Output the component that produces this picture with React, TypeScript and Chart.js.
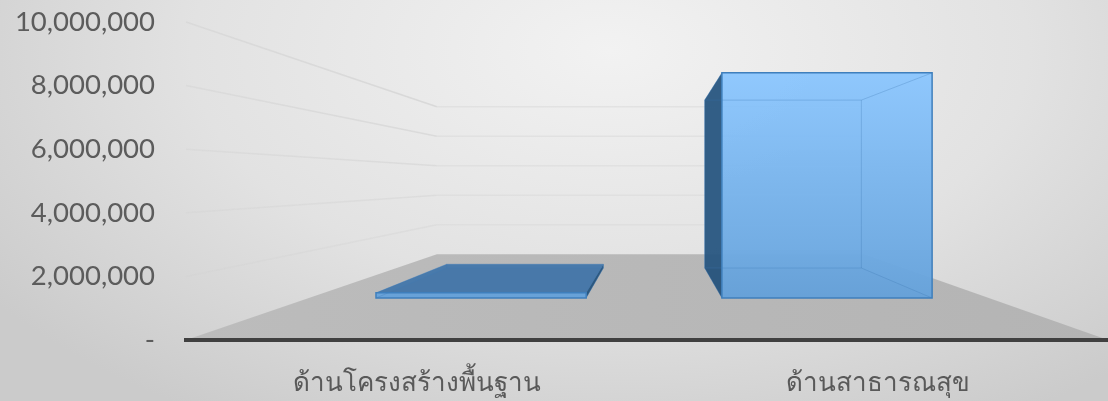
import React, { useEffect, useRef } from "react";
import { Chart, registerables } from "chart.js";

Chart.register(...registerables);

const categories = ["ด้านโครงสร้างพื้นฐาน", "ด้านสาธารณสุข"];
const budget = [220000, 9600000];
const yMax = 10000000;
const yStep = 2000000;

// Perspective of the 3D box the chart sits in
const VP_X = 654;
const VP_Y = 180;
const S_WALL = 0.464;
const S_BAR_FRONT = 0.7375;
const S_BAR_BACK = 0.55;
const X_STRETCH = 1.0174;
const X_FIXED = 241;

const proj = (x: number, y: number, s: number): [number, number] => [
  VP_X + (x - VP_X) * s,
  VP_Y + (y - VP_Y) * s,
];

const poly = (ctx: CanvasRenderingContext2D, pts: [number, number][]) => {
  ctx.beginPath();
  pts.forEach((p, i) => (i ? ctx.lineTo(p[0], p[1]) : ctx.moveTo(p[0], p[1])));
  ctx.closePath();
};

const box3d = {
  id: "box3d",
  beforeDraw(chart: any) {
    const { ctx, chartArea: a, scales } = chart;
    const y = scales.y;
    ctx.save();
    // floor
    const bl = proj(a.left, a.bottom, S_WALL);
    const br = proj(a.right, a.bottom, S_WALL);
    const g = ctx.createLinearGradient(a.left, 0, a.right, 0);
    g.addColorStop(0, "#bcbcbc");
    g.addColorStop(1, "#b4b4b4");
    ctx.fillStyle = g;
    poly(ctx, [[a.left, a.bottom], bl, br, [a.right, a.bottom]]);
    ctx.fill();
    // wall grid lines
    ctx.lineWidth = 1.5;
    y.ticks.forEach((t: any) => {
      if (t.value === 0) return;
      const yy = y.getPixelForValue(t.value);
      const b1 = proj(a.left, yy, S_WALL);
      const b2 = proj(a.right, yy, S_WALL);
      const strength = t.value / yMax;
      const lg = ctx.createLinearGradient(a.left, 0, b1[0], 0);
      lg.addColorStop(0, `rgba(205,205,205,${0.1 + 0.3 * strength})`);
      lg.addColorStop(1, `rgba(212,212,212,${0.35 + 0.45 * strength})`);
      ctx.strokeStyle = lg;
      ctx.beginPath();
      ctx.moveTo(a.left, yy);
      ctx.lineTo(b1[0], b1[1]);
      ctx.stroke();
      ctx.strokeStyle = "rgba(218,218,218,0.6)";
      ctx.beginPath();
      ctx.moveTo(b1[0], b1[1]);
      ctx.lineTo(b2[0], b2[1]);
      ctx.stroke();
    });
    ctx.restore();
  },
  beforeDatasetDraw(chart: any, args: any) {
    const { ctx, scales } = chart;
    const y = scales.y;
    const meta = args.meta;
    const maxTop = proj(0, y.getPixelForValue(Math.max(...budget)), S_BAR_FRONT)[1];
    const minBot = proj(0, y.getPixelForValue(0), S_BAR_FRONT)[1];
    ctx.save();
    meta.data.forEach((el: any) => {
      const cx = X_FIXED + (el.x - X_FIXED) * X_STRETCH;
      const w = el.width * X_STRETCH;
      const l = cx - w / 2;
      const r = cx + w / 2;
      const t = el.y;
      const b = el.base;
      const ftl = proj(l, t, S_BAR_FRONT);
      const ftr = proj(r, t, S_BAR_FRONT);
      const fbl = proj(l, b, S_BAR_FRONT);
      const fbr = proj(r, b, S_BAR_FRONT);
      const btl = proj(l, t, S_BAR_BACK);
      const btr = proj(r, t, S_BAR_BACK);
      const bbl = proj(l, b, S_BAR_BACK);
      const bbr = proj(r, b, S_BAR_BACK);
      const dark = "rgba(32,76,116,0.85)";
      const darkTop = "rgba(66,116,166,0.9)";
      const inner = "rgba(95,165,235,0.55)";

      const face = (pts: [number, number][], fill: string) => {
        ctx.fillStyle = fill;
        poly(ctx, pts);
        ctx.fill();
      };
      const leftOuter = l > VP_X;
      const rightOuter = r < VP_X;
      const topOuter = t > VP_Y;
      const leftFace: [number, number][] = [ftl, btl, bbl, fbl];
      const rightFace: [number, number][] = [ftr, btr, bbr, fbr];
      const topFace: [number, number][] = [ftl, ftr, btr, btl];

      // faces seen from inside first, faces seen from outside over them
      face([btl, btr, bbr, bbl], inner);
      face([fbl, fbr, bbr, bbl], "rgba(70,130,195,0.55)");
      if (!leftOuter) face(leftFace, inner);
      if (!rightOuter) face(rightFace, inner);
      if (!topOuter) face(topFace, inner);
      if (topOuter) face(topFace, darkTop);
      if (leftOuter) face(leftFace, dark);
      if (rightOuter) face(rightFace, dark);

      const g = ctx.createLinearGradient(0, maxTop, 0, minBot);
      g.addColorStop(0, "rgba(142,200,255,0.9)");
      g.addColorStop(1, "rgba(102,162,218,0.92)");
      face([ftl, ftr, fbr, fbl], g as any);

      // back edges, visible through the glass
      ctx.strokeStyle = "rgba(60,120,178,0.3)";
      ctx.lineWidth = 1;
      poly(ctx, [btl, btr, bbr, bbl]);
      ctx.stroke();
      [[ftr, btr], [fbr, bbr], [ftl, btl], [fbl, bbl]].forEach(([p, q]) => {
        ctx.beginPath();
        ctx.moveTo(p[0], p[1]);
        ctx.lineTo(q[0], q[1]);
        ctx.stroke();
      });
      // front outline
      ctx.strokeStyle = "#3f7fbc";
      ctx.lineWidth = 1.5;
      poly(ctx, [ftl, ftr, fbr, fbl]);
      ctx.stroke();
    });
    ctx.restore();
    return false;
  },
};

export default function App() {
  const ref = useRef<HTMLCanvasElement>(null);
  useEffect(() => {
    if (!ref.current) return;
    const chart = new Chart(ref.current, {
      type: "bar",
      data: {
        labels: categories,
        datasets: [
          {
            label: "budget",
            data: budget,
            backgroundColor: "#74b3f0",
            borderColor: "#3f7fbc",
            categoryPercentage: 1,
            barPercentage: 0.6077,
          },
        ],
      },
      options: {
        responsive: false,
        animation: false,
        layout: { padding: { top: 22, left: 0, right: 0, bottom: 0 } },
        plugins: { legend: { display: false }, tooltip: { enabled: false } },
        scales: {
          x: {
            grid: { display: false, drawTicks: false },
            border: { display: true, color: "#404040", width: 4 },
            afterFit: (axis: any) => {
              axis.height = 61;
            },
            ticks: {
              color: "#595959",
              padding: 27,
              maxRotation: 0,
              font: { family: "Lato, 'Noto Sans', sans-serif", size: 26 },
            },
          },
          y: {
            min: 0,
            max: yMax,
            grid: { display: false, drawTicks: false },
            border: { display: false },
            afterFit: (axis: any) => {
              axis.width = 186;
              axis.paddingTop = 0;
              axis.paddingBottom = 0;
            },
            ticks: {
              stepSize: yStep,
              color: "#5c5c5c",
              padding: 31,
              font: { family: "Lato, 'Noto Sans', sans-serif", size: 27.5 },
              callback: (v: any) => (v === 0 ? "-" : Number(v).toLocaleString("en-US")),
            },
          },
        },
      },
      plugins: [box3d],
    } as any);
    return () => chart.destroy();
  }, []);
  return (
    <div
      style={{
        position: "fixed",
        left: 0,
        top: 0,
        width: 1108,
        height: 401,
        overflow: "hidden",
        background:
          "radial-gradient(ellipse 760px 430px at 610px 50px, #f2f2f2 0%, #e2e2e2 55%, #cbcbcb 100%)",
      }}
    >
      <canvas ref={ref} width={1108} height={401} style={{ display: "block" }} />
    </div>
  );
}
